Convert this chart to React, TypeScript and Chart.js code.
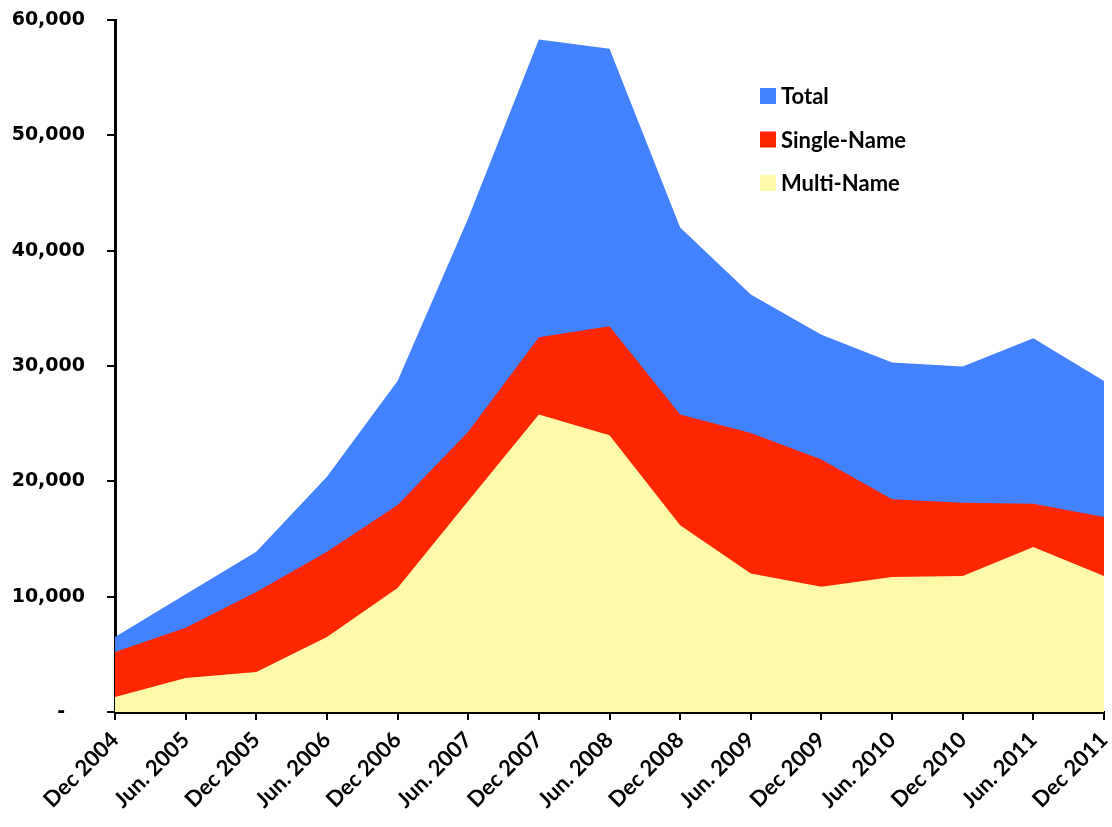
import React, { useEffect, useRef } from "react";
import { Chart, registerables } from "chart.js";

Chart.register(...registerables);

const categories = [
  "Dec 2004", "Jun. 2005", "Dec 2005", "Jun. 2006", "Dec 2006", "Jun. 2007", "Dec 2007",
  "Jun. 2008", "Dec 2008", "Jun. 2009", "Dec 2009", "Jun. 2010", "Dec 2010", "Jun. 2011", "Dec 2011",
];

const totalValues = [6500, 10200, 13900, 20400, 28700, 42800, 58300, 57500, 42000, 36200, 32700, 30300, 29950, 32400, 28700];
const singleNameValues = [5200, 7300, 10400, 13900, 17950, 24300, 32500, 33450, 25800, 24200, 21900, 18450, 18150, 18050, 16900];
const multiNameValues = [1300, 2950, 3470, 6500, 10750, 18300, 25800, 24000, 16200, 12000, 10850, 11700, 11800, 14300, 11800];

const yTicks = [0, 10000, 20000, 30000, 40000, 50000, 60000];

const legendPlugin = {
  id: "insideLegend",
  afterDraw(chart: any) {
    const ctx = chart.ctx;
    ctx.save();
    chart.data.datasets.forEach((ds: any, i: number) => {
      const y = 96 + i * 43.5;
      ctx.fillStyle = ds.backgroundColor;
      ctx.fillRect(760, y - 8, 16, 16);
      ctx.fillStyle = "#000";
      ctx.font = "bold 22px Lato";
      ctx.textAlign = "left";
      ctx.textBaseline = "middle";
      ctx.fillText(ds.label, 781, y + 1);
    });
    ctx.restore();
  },
};

export default function App() {
  const ref = useRef<HTMLCanvasElement | null>(null);
  useEffect(() => {
    document.body.style.margin = "0";
    const mk = (label: string, data: number[], color: string, order: number) => ({
      label,
      data,
      backgroundColor: color,
      borderColor: "rgba(0,0,0,0)",
      borderWidth: 1,
      pointRadius: 0,
      fill: "origin",
      tension: 0,
      order,
    });
    const chart = new Chart(ref.current as HTMLCanvasElement, {
      type: "line",
      data: {
        labels: categories,
        datasets: [
          mk("Total", totalValues, "#4282FF", 3),
          mk("Single-Name", singleNameValues, "#FF2600", 2),
          mk("Multi-Name", multiNameValues, "#FFF9AA", 1),
        ],
      },
      options: {
        animation: false,
        responsive: false,
        devicePixelRatio: 1,
        layout: { padding: { top: 20, right: 8, left: 0, bottom: 0 } },
        plugins: { legend: { display: false }, tooltip: { enabled: false } },
        scales: {
          x: {
            offset: false,
            grid: { display: true, drawOnChartArea: false, drawTicks: true, tickLength: 8, color: "#000", lineWidth: 2 },
            border: { display: true, color: "#000", width: 3 },
            ticks: {
              color: "#000",
              font: { family: "Lato", weight: "bold", size: 22 },
              maxRotation: 45,
              minRotation: 45,
              autoSkip: false,
              padding: 7,
            },
            afterFit: (s: any) => { s.height = 115; s.paddingLeft = 0; s.paddingRight = 0; },
          },
          y: {
            min: 0,
            max: 60000,
            afterBuildTicks: (s: any) => { s.ticks = yTicks.map((v) => ({ value: v })); },
            grid: { display: true, drawOnChartArea: false, drawTicks: true, tickLength: 8, color: "#000", lineWidth: 2 },
            border: { display: true, color: "#000", width: 3 },
            ticks: {
              color: "#000",
              font: { family: "DejaVu Sans", weight: "bold", size: 19 },
              padding: 22,
              callback: (v: any) => (Number(v) === 0 ? "-   " : Number(v).toLocaleString("en-US")),
            },
            afterFit: (s: any) => { s.width = 115; s.paddingTop = 0; s.paddingBottom = 0; },
          },
        },
      },
      plugins: [legendPlugin],
    } as any);
    return () => chart.destroy();
  }, []);
  return (
    <div style={{ width: 1112, height: 827, background: "#fff" }}>
      <canvas ref={ref} width={1112} height={827} style={{ display: "block" }} />
    </div>
  );
}
